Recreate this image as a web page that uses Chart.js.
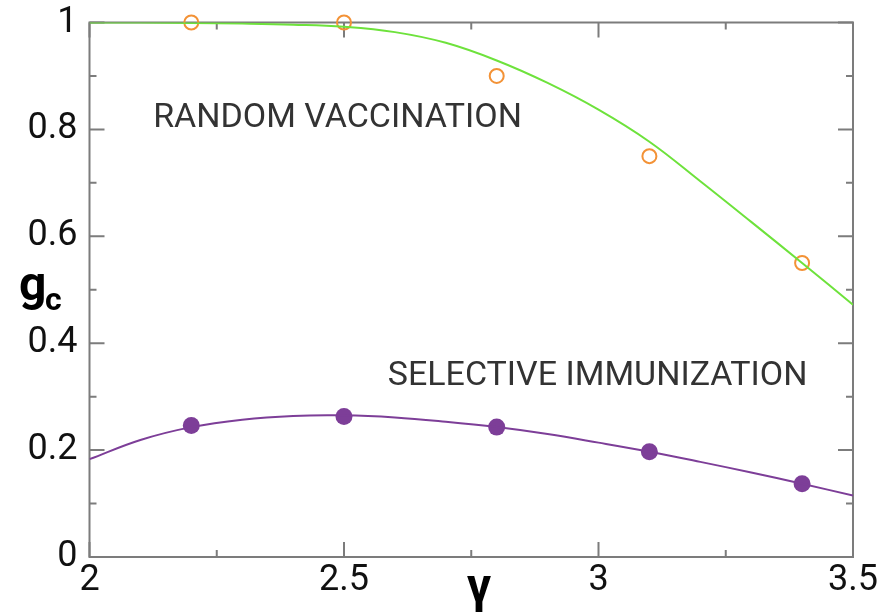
<!DOCTYPE html>
<html>
<head>
<meta charset="utf-8">
<script src="https://cdn.jsdelivr.net/npm/chart.js@4/dist/chart.umd.min.js"></script>
<style>
  body { margin: 0; background: #fff; }
  #wrap { width: 881px; height: 614px; position: relative; }
</style>
</head>
<body>
<div id="wrap"><canvas id="gc-chart"></canvas></div>
<script>
// theory curves, sampled on a gamma grid
const gammaGrid = [2.0, 2.1, 2.2, 2.3, 2.4, 2.5, 2.6, 2.7, 2.8, 2.9, 3.0, 3.1, 3.2, 3.3, 3.4, 3.5];
const randomCurve = [1.000, 1.000, 0.999, 0.998, 0.996, 0.992, 0.982, 0.962, 0.929, 0.887, 0.837, 0.777, 0.703, 0.627, 0.550, 0.472];
const selectiveCurve = [0.183, 0.219, 0.243, 0.257, 0.264, 0.265, 0.261, 0.253, 0.243, 0.230, 0.214, 0.197, 0.178, 0.158, 0.137, 0.115];

// simulation points
const gammaSim = [2.2, 2.5, 2.8, 3.1, 3.4];
const randomSim = [1.0, 1.0, 0.9, 0.75, 0.55];
const selectiveSim = [0.246, 0.263, 0.243, 0.197, 0.137];

// labelled ticks
const xMajor = [2, 2.5, 3, 3.5];
const yMajor = [0, 0.2, 0.4, 0.6, 0.8, 1];

// text annotations (gamma, g_c) at text baseline start
const notes = [
    { text: "RANDOM VACCINATION", x: 2.125, y: 0.805 },
    { text: "SELECTIVE IMMUNIZATION", x: 2.586, y: 0.322 }
];

const toXY = (xs, ys) => xs.map((x, i) => ({ x: x, y: ys[i] }));
const isMajor = (list, v) => list.some(m => Math.abs(m - v) < 1e-6);

const GREEN = "#6ee23c";
const ORANGE = "#f39236";
const PURPLE = "#7d3e98";
const FRAME = "#7c7c7c";

// frame box with inward ticks on every side, plus axis titles and notes
const framePlugin = {
    id: "frame",
    beforeDatasetsDraw(chart) {
        const { ctx, chartArea: a, scales } = chart;
        ctx.save();
        ctx.strokeStyle = FRAME;
        ctx.lineWidth = 2;
        ctx.strokeRect(a.left, a.top, a.right - a.left, a.bottom - a.top);
        ctx.beginPath();
        scales.x.ticks.forEach(t => {
            const px = scales.x.getPixelForValue(t.value);
            const len = isMajor(xMajor, t.value) ? 15 : 7;
            ctx.moveTo(px, a.bottom); ctx.lineTo(px, a.bottom - len);
            ctx.moveTo(px, a.top); ctx.lineTo(px, a.top + len);
        });
        scales.y.ticks.forEach(t => {
            const py = scales.y.getPixelForValue(t.value);
            const len = isMajor(yMajor, t.value) ? 15 : 7;
            ctx.moveTo(a.left, py); ctx.lineTo(a.left + len, py);
            ctx.moveTo(a.right, py); ctx.lineTo(a.right - len, py);
        });
        ctx.stroke();

        ctx.fillStyle = "#333";
        ctx.font = "34px Roboto";
        ctx.textBaseline = "alphabetic";
        notes.forEach(n => {
            ctx.fillText(n.text, scales.x.getPixelForValue(n.x), scales.y.getPixelForValue(n.y));
        });

        ctx.fillStyle = "#000";
        ctx.font = "bold 48px Roboto";
        ctx.fillText("g", 19, 300);
        ctx.font = "bold 32px Roboto";
        ctx.fillText("c", 45, 310);
        ctx.font = "bold 48px Roboto";
        ctx.textAlign = "center";
        ctx.fillText("γ", 479, 602);
        ctx.restore();
    }
};

const tickFont = { family: "Roboto", size: 36, lineHeight: 1 };

new Chart(document.getElementById("gc-chart"), {
    type: "scatter",
    data: {
        datasets: [{
            label: "random theory",
            data: toXY(gammaGrid, randomCurve),
            showLine: true,
            borderColor: GREEN,
            borderWidth: 2,
            pointRadius: 0,
            tension: 0.4,
        }, {
            label: "selective theory",
            data: toXY(gammaGrid, selectiveCurve),
            showLine: true,
            borderColor: PURPLE,
            borderWidth: 2,
            pointRadius: 0,
            tension: 0.4,
        }, {
            label: "random sim",
            data: toXY(gammaSim, randomSim),
            pointRadius: 7,
            pointBorderWidth: 2,
            pointBorderColor: ORANGE,
            pointBackgroundColor: "rgba(0,0,0,0)",
            clip: false,
        }, {
            label: "selective sim",
            data: toXY(gammaSim, selectiveSim),
            pointRadius: 8.5,
            pointBorderWidth: 0,
            pointBackgroundColor: PURPLE,
            clip: false,
        }]
    },
    options: {
        responsive: true,
        maintainAspectRatio: false,
        animation: false,
        layout: { padding: { top: 22.5, right: 28, left: 0, bottom: 0 } },
        scales: {
            x: {
                type: "linear",
                min: 2,
                max: 3.5,
                afterFit(scale) {
                    scale.height = 57;
                    scale.paddingLeft = 0;
                    scale.paddingRight = 0;
                },
                border: { display: false },
                grid: { display: false, drawTicks: false },
                ticks: {
                    stepSize: 0.25,
                    autoSkip: false,
                    maxRotation: 0,
                    padding: 6,
                    color: "#111",
                    font: tickFont,
                    callback: v => isMajor(xMajor, v) ? String(+v.toFixed(2)) : ""
                }
            },
            y: {
                min: 0,
                max: 1,
                afterFit(scale) {
                    scale.width = 89.5;
                    scale.paddingTop = 0;
                    scale.paddingBottom = 0;
                },
                border: { display: false },
                grid: { display: false, drawTicks: false },
                ticks: {
                    stepSize: 0.1,
                    autoSkip: false,
                    padding: 12,
                    color: "#111",
                    font: tickFont,
                    callback: v => isMajor(yMajor, v) ? String(+v.toFixed(1)) : ""
                }
            }
        },
        plugins: {
            legend: { display: false },
            tooltip: { enabled: false }
        }
    },
    plugins: [framePlugin]
});
</script>
</body>
</html>
